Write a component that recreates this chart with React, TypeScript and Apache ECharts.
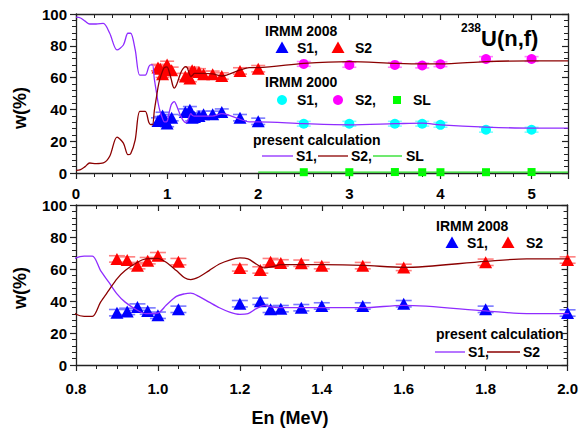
import React, { useEffect, useRef } from 'react';
import * as echarts from 'echarts';

// ---- present calculation (fission mode weights, %) ----
const calcE = [0, 0.05, 0.1, 0.15, 0.22, 0.3, 0.37, 0.45, 0.52, 0.57, 0.6, 0.65, 0.7, 0.76, 0.8, 0.82, 0.84, 0.86, 0.88, 0.9, 0.92, 0.95, 0.97, 1.0, 1.02, 1.045, 1.065, 1.08, 1.1, 1.125, 1.15, 1.175, 1.2, 1.22, 1.24, 1.26, 1.28, 1.3, 1.4, 1.5, 1.6, 1.8, 1.9, 2.0, 2.5, 3.0, 3.5, 3.8, 4.0, 4.5, 5.0, 5.4];
const calcS1 = [98, 97.5, 95.5, 93.7, 93.7, 94.1, 87.9, 77.4, 80.5, 87.9, 87.9, 77.4, 61.5, 61.5, 67, 68, 68, 59, 51.8, 44.5, 39.3, 34.2, 32.1, 32.5, 37.3, 42.9, 44.5, 44.9, 42.9, 39.3, 35.8, 33.1, 31.7, 32.1, 35.2, 37.3, 36.2, 35.8, 35.8, 35.8, 37.3, 33.8, 32.1, 32.1, 31, 30.3, 31, 31.4, 30.3, 28.9, 28.2, 28.2];
const calcS2 = [1.7, 2.1, 4, 6.3, 5.9, 6.3, 10.5, 22.6, 18.8, 11.5, 12.1, 20.9, 38.7, 38.7, 31.7, 30.4, 30.4, 39.3, 46.6, 53.8, 59, 64.2, 66.3, 66.7, 64.2, 59, 54.5, 53.4, 55, 59, 63.1, 65.6, 66.9, 66.3, 63.1, 60.7, 61.5, 62.7, 62.7, 62.3, 61, 64.8, 66.3, 66.3, 69, 70.1, 69, 68.6, 68.6, 70.1, 70.5, 70.5];
const calcSLE = [2.0, 5.4];
const calcSL = [0.5, 0.5];

// ---- IRMM 2008 ----
const irmm2008E = [0.9, 0.925, 0.95, 0.975, 1.0, 1.05, 1.2, 1.25, 1.275, 1.3, 1.35, 1.4, 1.5, 1.6, 1.8, 2.0];
const irmm2008S1 = [32.7, 33.5, 36.2, 33.7, 31.1, 34.8, 38.3, 39.8, 34.8, 35.2, 35.8, 36.9, 36.9, 38.3, 34.8, 32.5];
const irmm2008S2 = [66.3, 65.6, 62.1, 65.2, 68.3, 64.6, 60.7, 59.4, 64.6, 63.8, 63.6, 62.1, 62.1, 61.0, 64.2, 65.6];
const irmm2008Err = [2, 2, 2, 2, 2, 2, 2, 2, 2, 2, 2, 2, 2, 2, 2, 2];

// ---- IRMM 2000 ----
const irmm2000E = [2.5, 3.0, 3.5, 3.8, 4.0, 4.5, 5.0];
const irmm2000S1 = [31, 31, 31, 31, 30.3, 27.2, 27.2];
const irmm2000S2 = [68.6, 68, 68, 67.6, 68.4, 71.7, 71.7];
const irmm2000SL = [0.5, 0.5, 0.6, 0.5, 0.5, 0.5, 0.6];
const irmm2000Err = [1.5, 1.5, 1.5, 1.5, 1.5, 1.5, 1.5];

const FONT = "'Liberation Sans', Arial, Helvetica, sans-serif";
const C_S1 = '#8f2cff';
const C_S2 = '#8b0000';
const C_SL = '#22dd22';

const pairs = (xs: number[], ys: number[]) => xs.map((x, i) => [x, ys[i]]);
const errData = (xs: number[], ys: number[], es: number[]) => xs.map((x, i) => [x, ys[i] - es[i], ys[i] + es[i]]);

function errSeries(data: number[][], color: string, xi: number, yi: number, hw: number) {
  return {
    type: 'custom',
    xAxisIndex: xi,
    yAxisIndex: yi,
    z: 1,
    silent: true,
    data,
    renderItem: (params: any, api: any) => {
      const x = api.value(0);
      const lo = api.value(1);
      const hi = api.value(2);
      const p1 = api.coord([x, hi]);
      const p2 = api.coord([x, lo]);
      const st = { stroke: color, lineWidth: 1.6 };
      return {
        type: 'group',
        children: [
          { type: 'line', shape: { x1: p1[0], y1: p1[1], x2: p2[0], y2: p2[1] }, style: st },
          { type: 'line', shape: { x1: p1[0] - hw, y1: p1[1], x2: p1[0] + hw, y2: p1[1] }, style: st },
          { type: 'line', shape: { x1: p2[0] - hw, y1: p2[1], x2: p2[0] + hw, y2: p2[1] }, style: st },
        ],
      };
    },
  };
}

function lineSeries(xs: number[], ys: number[], color: string, xi: number, yi: number) {
  return {
    type: 'line',
    xAxisIndex: xi,
    yAxisIndex: yi,
    data: pairs(xs, ys),
    showSymbol: false,
    symbol: 'none',
    smooth: 0.3,
    clip: true,
    z: 5,
    lineStyle: { color, width: 1.3 },
  };
}

function scatterSeries(xs: number[], ys: number[], color: string, symbol: string, size: any, xi: number, yi: number) {
  return {
    type: 'scatter',
    xAxisIndex: xi,
    yAxisIndex: yi,
    data: pairs(xs, ys),
    symbol,
    symbolSize: size,
    z: 3,
    itemStyle: { color, opacity: 1 },
  };
}

function xAxisDef(gi: number, pos: 'bottom' | 'top', min: number, max: number, interval: number, minorSplit: number, fmt: (v: number) => string, labelMargin: number) {
  const labels = pos === 'bottom';
  return {
    type: 'value',
    gridIndex: gi,
    position: pos,
    min,
    max,
    interval,
    axisLine: { show: true, onZero: false, lineStyle: { color: '#222', width: 1.3 } },
    axisTick: { show: true, inside: !labels, length: 6, lineStyle: { color: '#222', width: 1.2 } },
    minorTick: { show: true, splitNumber: minorSplit, length: 4, lineStyle: { color: '#222', width: 1 } },
    splitLine: { show: false },
    axisLabel: labels
      ? { show: true, formatter: fmt, fontFamily: FONT, fontWeight: 'bold', fontSize: 15, color: '#000', margin: labelMargin, showMaxLabel: true }
      : { show: false },
  };
}

function yAxisDef(gi: number, pos: 'left' | 'right') {
  const labels = pos === 'left';
  return {
    type: 'value',
    gridIndex: gi,
    position: pos,
    min: 0,
    max: 100,
    interval: 20,
    axisLine: { show: true, onZero: false, lineStyle: { color: '#222', width: 1.3 } },
    axisTick: { show: true, inside: !labels, length: 6, lineStyle: { color: '#222', width: 1.2 } },
    minorTick: { show: true, splitNumber: 5, length: 4, lineStyle: { color: '#222', width: 1 } },
    splitLine: { show: false },
    axisLabel: labels
      ? { show: true, fontFamily: FONT, fontWeight: 'bold', fontSize: 15, color: '#000', margin: 9 }
      : { show: false },
  };
}

function txt(text: string, x: number, y: number, size = 14, align = 'left') {
  return {
    type: 'text',
    x,
    y,
    style: { text, fill: '#000', font: `bold ${size}px ${FONT}`, textAlign: align, textVerticalAlign: 'middle' },
  };
}
function tri(cx: number, cy: number, color: string) {
  return { type: 'polygon', shape: { points: [[cx, cy - 6.5], [cx - 6.5, cy + 5], [cx + 6.5, cy + 5]] }, style: { fill: color } };
}
function circ(cx: number, cy: number, color: string) {
  return { type: 'circle', shape: { cx, cy, r: 5 }, style: { fill: color } };
}
function sq(cx: number, cy: number, color: string) {
  return { type: 'rect', shape: { x: cx - 4, y: cy - 4, width: 8, height: 8 }, style: { fill: color } };
}
function seg(x1: number, x2: number, y: number, color: string) {
  return { type: 'line', shape: { x1, y1: y, x2, y2: y }, style: { stroke: color, lineWidth: 1.3 } };
}

export default function App() {
  const ref = useRef<HTMLDivElement>(null);
  useEffect(() => {
    if (!ref.current) return;
    const chart = echarts.init(ref.current, undefined, { renderer: 'svg' });
    const intFmt = (v: number) => (Math.abs(v - Math.round(v)) < 1e-9 ? String(Math.round(v)) : '');
    const decFmt = (v: number) => v.toFixed(1);

    const option: any = {
      animation: false,
      backgroundColor: '#fff',
      grid: [
        { left: 76, top: 14, width: 492, height: 159, containLabel: false },
        { left: 76, top: 205, width: 492, height: 160, containLabel: false },
      ],
      xAxis: [
        xAxisDef(0, 'bottom', 0, 5.4, 1, 5, intFmt, 13),
        xAxisDef(0, 'top', 0, 5.4, 1, 5, intFmt, 13),
        xAxisDef(1, 'bottom', 0.8, 2.0, 0.2, 4, decFmt, 16),
        xAxisDef(1, 'top', 0.8, 2.0, 0.2, 4, decFmt, 16),
      ],
      yAxis: [yAxisDef(0, 'left'), yAxisDef(0, 'right'), yAxisDef(1, 'left'), yAxisDef(1, 'right')],
      series: [
        // top panel
        errSeries(errData(irmm2008E, irmm2008S1, irmm2008Err), '#7a7aff', 0, 0, 7),
        errSeries(errData(irmm2008E, irmm2008S2, irmm2008Err), '#ff8080', 0, 0, 7),
        errSeries(errData(irmm2000E, irmm2000S1, irmm2000Err), '#80ffff', 0, 0, 7),
        errSeries(errData(irmm2000E, irmm2000S2, irmm2000Err), '#ff80ff', 0, 0, 7),
        scatterSeries(irmm2008E, irmm2008S1, '#0000ff', 'triangle', [13, 12], 0, 0),
        scatterSeries(irmm2008E, irmm2008S2, '#ff0000', 'triangle', [13, 12], 0, 0),
        scatterSeries(irmm2000E, irmm2000S1, '#00ffff', 'circle', 10, 0, 0),
        scatterSeries(irmm2000E, irmm2000S2, '#ff00ff', 'circle', 10, 0, 0),
        scatterSeries(irmm2000E, irmm2000SL, '#00ff00', 'rect', 8, 0, 0),
        lineSeries(calcE, calcS1, C_S1, 0, 0),
        lineSeries(calcE, calcS2, C_S2, 0, 0),
        lineSeries(calcSLE, calcSL, C_SL, 0, 0),
        // bottom panel
        errSeries(errData(irmm2008E, irmm2008S1, irmm2008Err), '#7a7aff', 2, 2, 8),
        errSeries(errData(irmm2008E, irmm2008S2, irmm2008Err), '#ff8080', 2, 2, 8),
        scatterSeries(irmm2008E, irmm2008S1, '#0000ff', 'triangle', [13, 12], 2, 2),
        scatterSeries(irmm2008E, irmm2008S2, '#ff0000', 'triangle', [13, 12], 2, 2),
        lineSeries(calcE, calcS1, C_S1, 2, 2),
        lineSeries(calcE, calcS2, C_S2, 2, 2),
      ],
      graphic: [
        // axis titles
        { type: 'text', x: 20, y: 108, rotation: Math.PI / 2, style: { text: 'w(%)', fill: '#000', font: `bold 18px ${FONT}`, textAlign: 'center', textVerticalAlign: 'middle' } },
        { type: 'text', x: 20, y: 288, rotation: Math.PI / 2, style: { text: 'w(%)', fill: '#000', font: `bold 18px ${FONT}`, textAlign: 'center', textVerticalAlign: 'middle' } },
        txt('En (MeV)', 290, 418, 18, 'center'),
        // title
        { type: 'text', x: 461, y: 28, style: { text: '238', fill: '#000', font: `bold 12px ${FONT}`, textAlign: 'left', textVerticalAlign: 'middle' } },
        txt('U(n,f)', 481, 38, 22),
        // top legend
        txt('IRMM 2008', 265, 31),
        tri(282, 48, '#0000ff'), txt('S1,', 297, 48),
        tri(338, 48, '#ff0000'), txt('S2', 355, 48),
        txt('IRMM 2000', 265, 82),
        circ(282, 100, '#00ffff'), txt('S1,', 297, 100),
        circ(338, 100, '#ff00ff'), txt('S2,', 355, 100),
        sq(397, 100, '#00ff00'), txt('SL', 413, 100),
        txt('present calculation', 253, 140),
        seg(262, 293, 156, C_S1), txt('S1,', 296, 156),
        seg(318, 348, 156, C_S2), txt('S2,', 351, 156),
        seg(373, 402, 156, C_SL), txt('SL', 406, 156),
        // bottom legend
        txt('IRMM 2008', 436, 226),
        tri(452, 243, '#0000ff'), txt('S1,', 467, 243),
        tri(508, 243, '#ff0000'), txt('S2', 526, 243),
        txt('present calculation', 436, 334),
        seg(435, 465, 352, C_S1), txt('S1,', 468, 352),
        seg(487, 520, 352, C_S2), txt('S2', 523, 352),
      ],
    };
    chart.setOption(option);
    return () => chart.dispose();
  }, []);
  return <div ref={ref} style={{ position: 'fixed', left: 0, top: 0, width: 581, height: 430 }} />;
}
